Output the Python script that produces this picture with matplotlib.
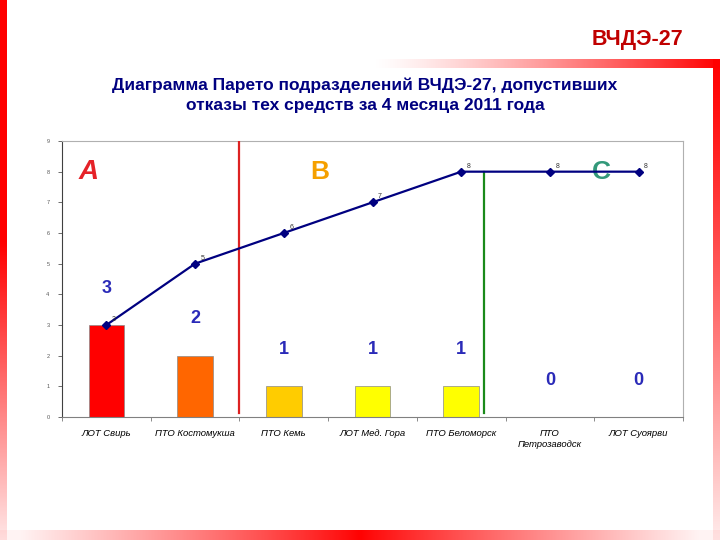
import numpy as np
import matplotlib
matplotlib.use("Agg")
import matplotlib.pyplot as plt

plt.rcParams['font.family'] = ['Liberation Sans', 'DejaVu Sans']

categories = ["ЛОТ Свирь", "ПТО Костомукша", "ПТО Кемь", "ЛОТ Мед. Гора",
              "ПТО Беломорск", "ПТО\nПетрозаводск", "ЛОТ Суоярви"]
failures = [3, 2, 1, 1, 1, 0, 0]
cumulative = [3, 5, 6, 7, 8, 8, 8]
bar_colors = ["#FF0000", "#FF6600", "#FFCC00", "#FFFF00", "#FFFF00", "#FFFF00", "#FFFF00"]
y_ticks = list(range(0, 10))

W, H = 720, 540
fig = plt.figure(figsize=(7.2, 5.4), dpi=100)

# --- decorative background ---
bg = fig.add_axes([0, 0, 1, 1], zorder=-10)
bg.set_xlim(0, W)
bg.set_ylim(H, 0)
bg.axis('off')

def grad(alpha):
    a = np.asarray(alpha, dtype=float)
    img = np.zeros(a.shape + (4,))
    img[..., 0] = 1.0
    img[..., 3] = a
    return img

t = np.linspace(0, 1, 200)
al = np.clip(1.0 - np.maximum(0, t - 0.45) / 0.55 * 0.9, 0.08, 1)
bg.imshow(grad(al[:, None]), extent=(0, 7, 540, 0), aspect='auto', interpolation='bilinear')
tx = np.linspace(0, 1, 200)
bg.imshow(grad((tx ** 1.3)[None, :]), extent=(370, 720, 68, 59), aspect='auto', interpolation='bilinear')
ar = np.clip(1.0 - t ** 1.2 * 0.92, 0.05, 1)
bg.imshow(grad(ar[:, None]), extent=(713, 720, 540, 59), aspect='auto', interpolation='bilinear')
xb = np.linspace(-1, 1, 300)
ab = np.clip(1 - np.abs(xb) ** 0.9, 0.05, 1)
bg.imshow(grad(ab[None, :]), extent=(0, 720, 540, 530), aspect='auto', interpolation='bilinear')

fig.text(683 / W, 1 - 40 / H, "ВЧДЭ-27", color="#C00000", fontsize=15.5,
         fontweight='bold', ha='right', va='center')
fig.text(365 / W, 1 - 95 / H,
         "Диаграмма Парето подразделений ВЧДЭ-27, допустивших\nотказы тех средств за 4 месяца 2011 года",
         color="#000080", fontsize=12.5, fontweight='bold', ha='center', va='center',
         linespacing=1.45)

# --- chart ---
ax = fig.add_axes([62 / W, 1 - 417 / H, (683 - 62) / W, (417 - 141) / H])
x = np.arange(len(categories))
ax.bar(x, failures, width=0.4, color=bar_colors, edgecolor="#8a8a8a", linewidth=0.5, zorder=2)
for xi, v in zip(x, failures):
    ax.text(xi, v + 1.2, str(v), color="#2a2ab8", fontsize=13, fontweight='bold',
            ha='center', va='center', zorder=5)

ax.plot(x, cumulative, color="#000080", linewidth=1.6, marker='D', markersize=4.5, zorder=4)
for xi, v in zip(x, cumulative):
    ax.annotate(str(v), (xi, v), xytext=(4, 1.5), textcoords='offset points',
                fontsize=5, color="#333333", ha='left', va='bottom', zorder=6)

ax.plot([1.5, 1.5], [0.13, 9], color="#DD2222", linewidth=1.6, zorder=3)
ax.plot([4.26, 4.26], [0.13, 8.0], color="#1A8A1A", linewidth=1.6, zorder=3)

ax.text(-0.2, 8.0, "A", color="#E52228", fontsize=20, fontweight='bold', style='italic',
        ha='center', va='center')
ax.text(2.4, 8.0, "B", color="#F5A000", fontsize=19, fontweight='bold',
        ha='center', va='center')
ax.text(5.58, 8.0, "C", color="#33997A", fontsize=19, fontweight='bold',
        ha='center', va='center')

ax.set_xlim(-0.5, len(categories) - 0.5)
ax.set_ylim(0, 9)
ax.set_yticks(y_ticks)
ax.set_yticklabels([str(v) for v in y_ticks], fontsize=4, color="#555555")
ax.tick_params(axis='y', length=3, width=0.6, color="#555555", pad=6)
ax.set_xticks(x)
ax.set_xticklabels(categories, fontsize=6.8, style='italic', color="black")
ax.tick_params(axis='x', length=0, pad=9)
ax.set_xticks(np.arange(-0.5, len(categories), 1), minor=True)
ax.tick_params(axis='x', which='minor', length=3, width=0.6, color="#777777")

ax.spines['left'].set_color("#404040")
ax.spines['bottom'].set_color("#808080")
ax.spines['top'].set_color("#B0B0B0")
ax.spines['right'].set_color("#B0B0B0")
for s in ax.spines.values():
    s.set_linewidth(0.8)

fig.savefig("out.png", dpi=100)
